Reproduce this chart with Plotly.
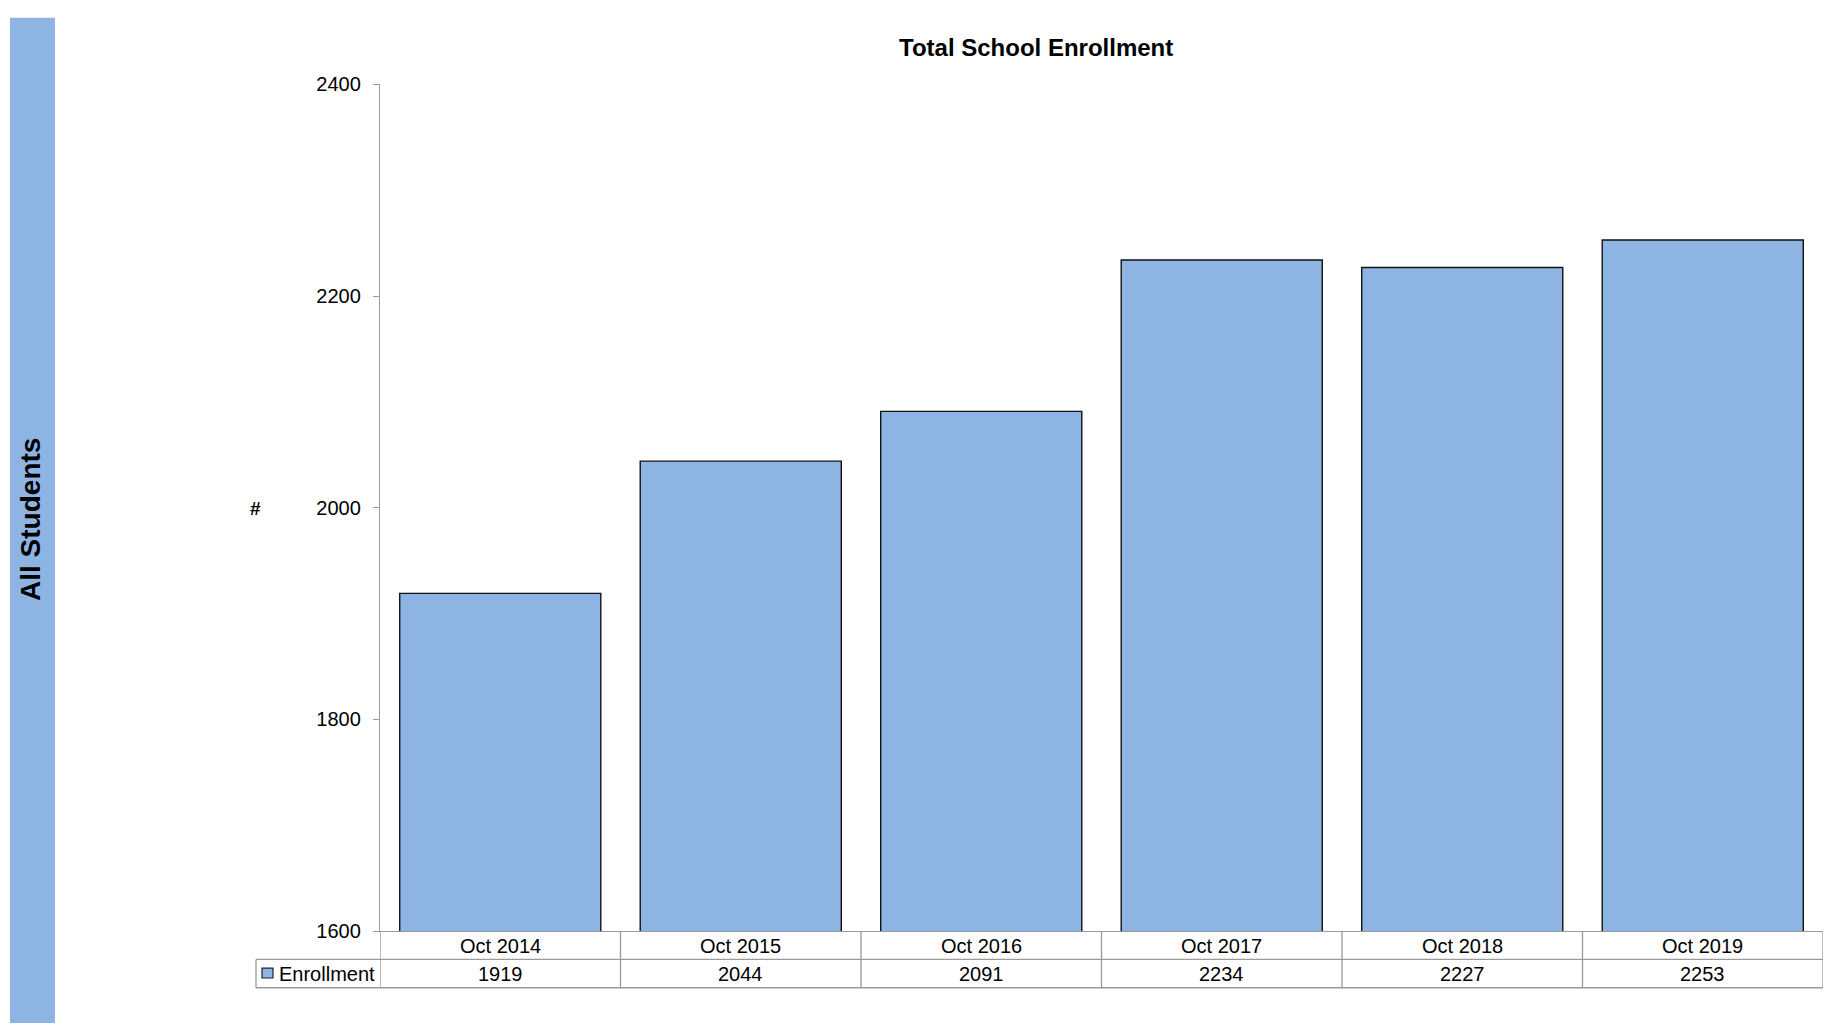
import plotly.graph_objects as go

categories = ["Oct 2014", "Oct 2015", "Oct 2016", "Oct 2017", "Oct 2018", "Oct 2019"]
enrollment = [1919, 2044, 2091, 2234, 2227, 2253]
series_name = "Enrollment"
y_ticks = [1600, 1800, 2000, 2200, 2400]
title_text = "Total School Enrollment"
side_label = "All Students"
y_label = "#"

W, H = 1826, 1034
BLUE = "#8EB4E3"
GRID = "#9A9A9A"
FONT = "Liberation Sans, Arial, sans-serif"

def px(x):
    return x / W

def py(y):
    return 1 - y / H

fig = go.Figure()
fig.add_trace(go.Bar(
    x=categories, y=enrollment, name=series_name,
    marker=dict(color=BLUE, line=dict(color="#111111", width=1.4)),
    width=0.836, showlegend=False,
))

shapes = []
# left banner strip
shapes.append(dict(type="rect", xref="paper", yref="paper",
                   x0=px(10), x1=px(55), y0=0, y1=py(7),
                   fillcolor=BLUE, line=dict(width=0), layer="below"))
# table horizontal lines
for yy in (969, 998):
    shapes.append(dict(type="line", xref="paper", yref="paper",
                       x0=px(256), x1=px(1823), y0=py(yy), y1=py(yy),
                       line=dict(color=GRID, width=1.3)))
# table vertical lines at category boundaries
for i in range(len(categories) + 1):
    shapes.append(dict(type="line", xref="x", yref="paper",
                       x0=i - 0.5, x1=i - 0.5, y0=py(940), y1=py(998),
                       line=dict(color=GRID, width=1.3)))
# legend cell left edge
shapes.append(dict(type="line", xref="paper", yref="paper",
                   x0=px(256), x1=px(256), y0=py(969), y1=py(998),
                   line=dict(color=GRID, width=1.3)))
# legend key square
shapes.append(dict(type="rect", xref="paper", yref="paper",
                   x0=px(262), x1=px(273), y0=py(988), y1=py(978),
                   fillcolor=BLUE, line=dict(color="#222222", width=1.2)))

annotations = []
annotations.append(dict(text="<b>%s</b>" % title_text, xref="paper", yref="paper",
                        x=px(1036), y=py(37), showarrow=False,
                        font=dict(size=24, color="#000", family=FONT),
                        xanchor="center", yanchor="middle"))
annotations.append(dict(text="<b>%s</b>" % side_label, xref="paper", yref="paper",
                        x=px(31), y=py(520), showarrow=False, textangle=-90,
                        font=dict(size=28, color="#000", family=FONT),
                        xanchor="center", yanchor="middle"))
annotations.append(dict(text="<b>%s</b>" % y_label, xref="paper", yref="paper",
                        x=px(255), y=py(508), showarrow=False,
                        font=dict(size=19, color="#000", family=FONT),
                        xanchor="center", yanchor="middle"))
annotations.append(dict(text=series_name, xref="paper", yref="paper",
                        x=px(277), y=py(984), showarrow=False,
                        font=dict(size=20, color="#000", family=FONT),
                        xanchor="left", yanchor="middle"))
for c, v in zip(categories, enrollment):
    annotations.append(dict(text=c, xref="x", yref="paper", x=c, y=py(955),
                            showarrow=False, font=dict(size=20, color="#000", family=FONT),
                            xanchor="center", yanchor="middle"))
    annotations.append(dict(text=str(v), xref="x", yref="paper", x=c, y=py(984),
                            showarrow=False, font=dict(size=20, color="#000", family=FONT),
                            xanchor="center", yanchor="middle"))

fig.update_layout(
    width=W, height=H,
    margin=dict(l=0, r=0, t=0, b=0),
    paper_bgcolor="white", plot_bgcolor="white",
    shapes=shapes, annotations=annotations,
    font=dict(family=FONT, size=20, color="#000"),
    bargap=0.164,
    xaxis=dict(domain=[px(380), px(1823)], range=[-0.5, 5.5], showticklabels=False,
               showline=True, linecolor=GRID, linewidth=1.3, ticks="",
               showgrid=False, zeroline=False, fixedrange=True),
    yaxis=dict(domain=[py(940), py(75)], range=[1600, 2400], tickvals=y_ticks,
               showline=True, linecolor=GRID, linewidth=1.3, ticks="outside",
               ticklen=6, tickcolor=GRID, tickwidth=1.3, showgrid=False,
               zeroline=False, ticklabelstandoff=8,
               tickfont=dict(size=20, color="#000", family=FONT)),
)

fig.write_html(
    "out.html",
    config={"displayModeBar": False},
    post_script="document.body.style.margin='0';document.body.style.overflow='hidden';",
)
